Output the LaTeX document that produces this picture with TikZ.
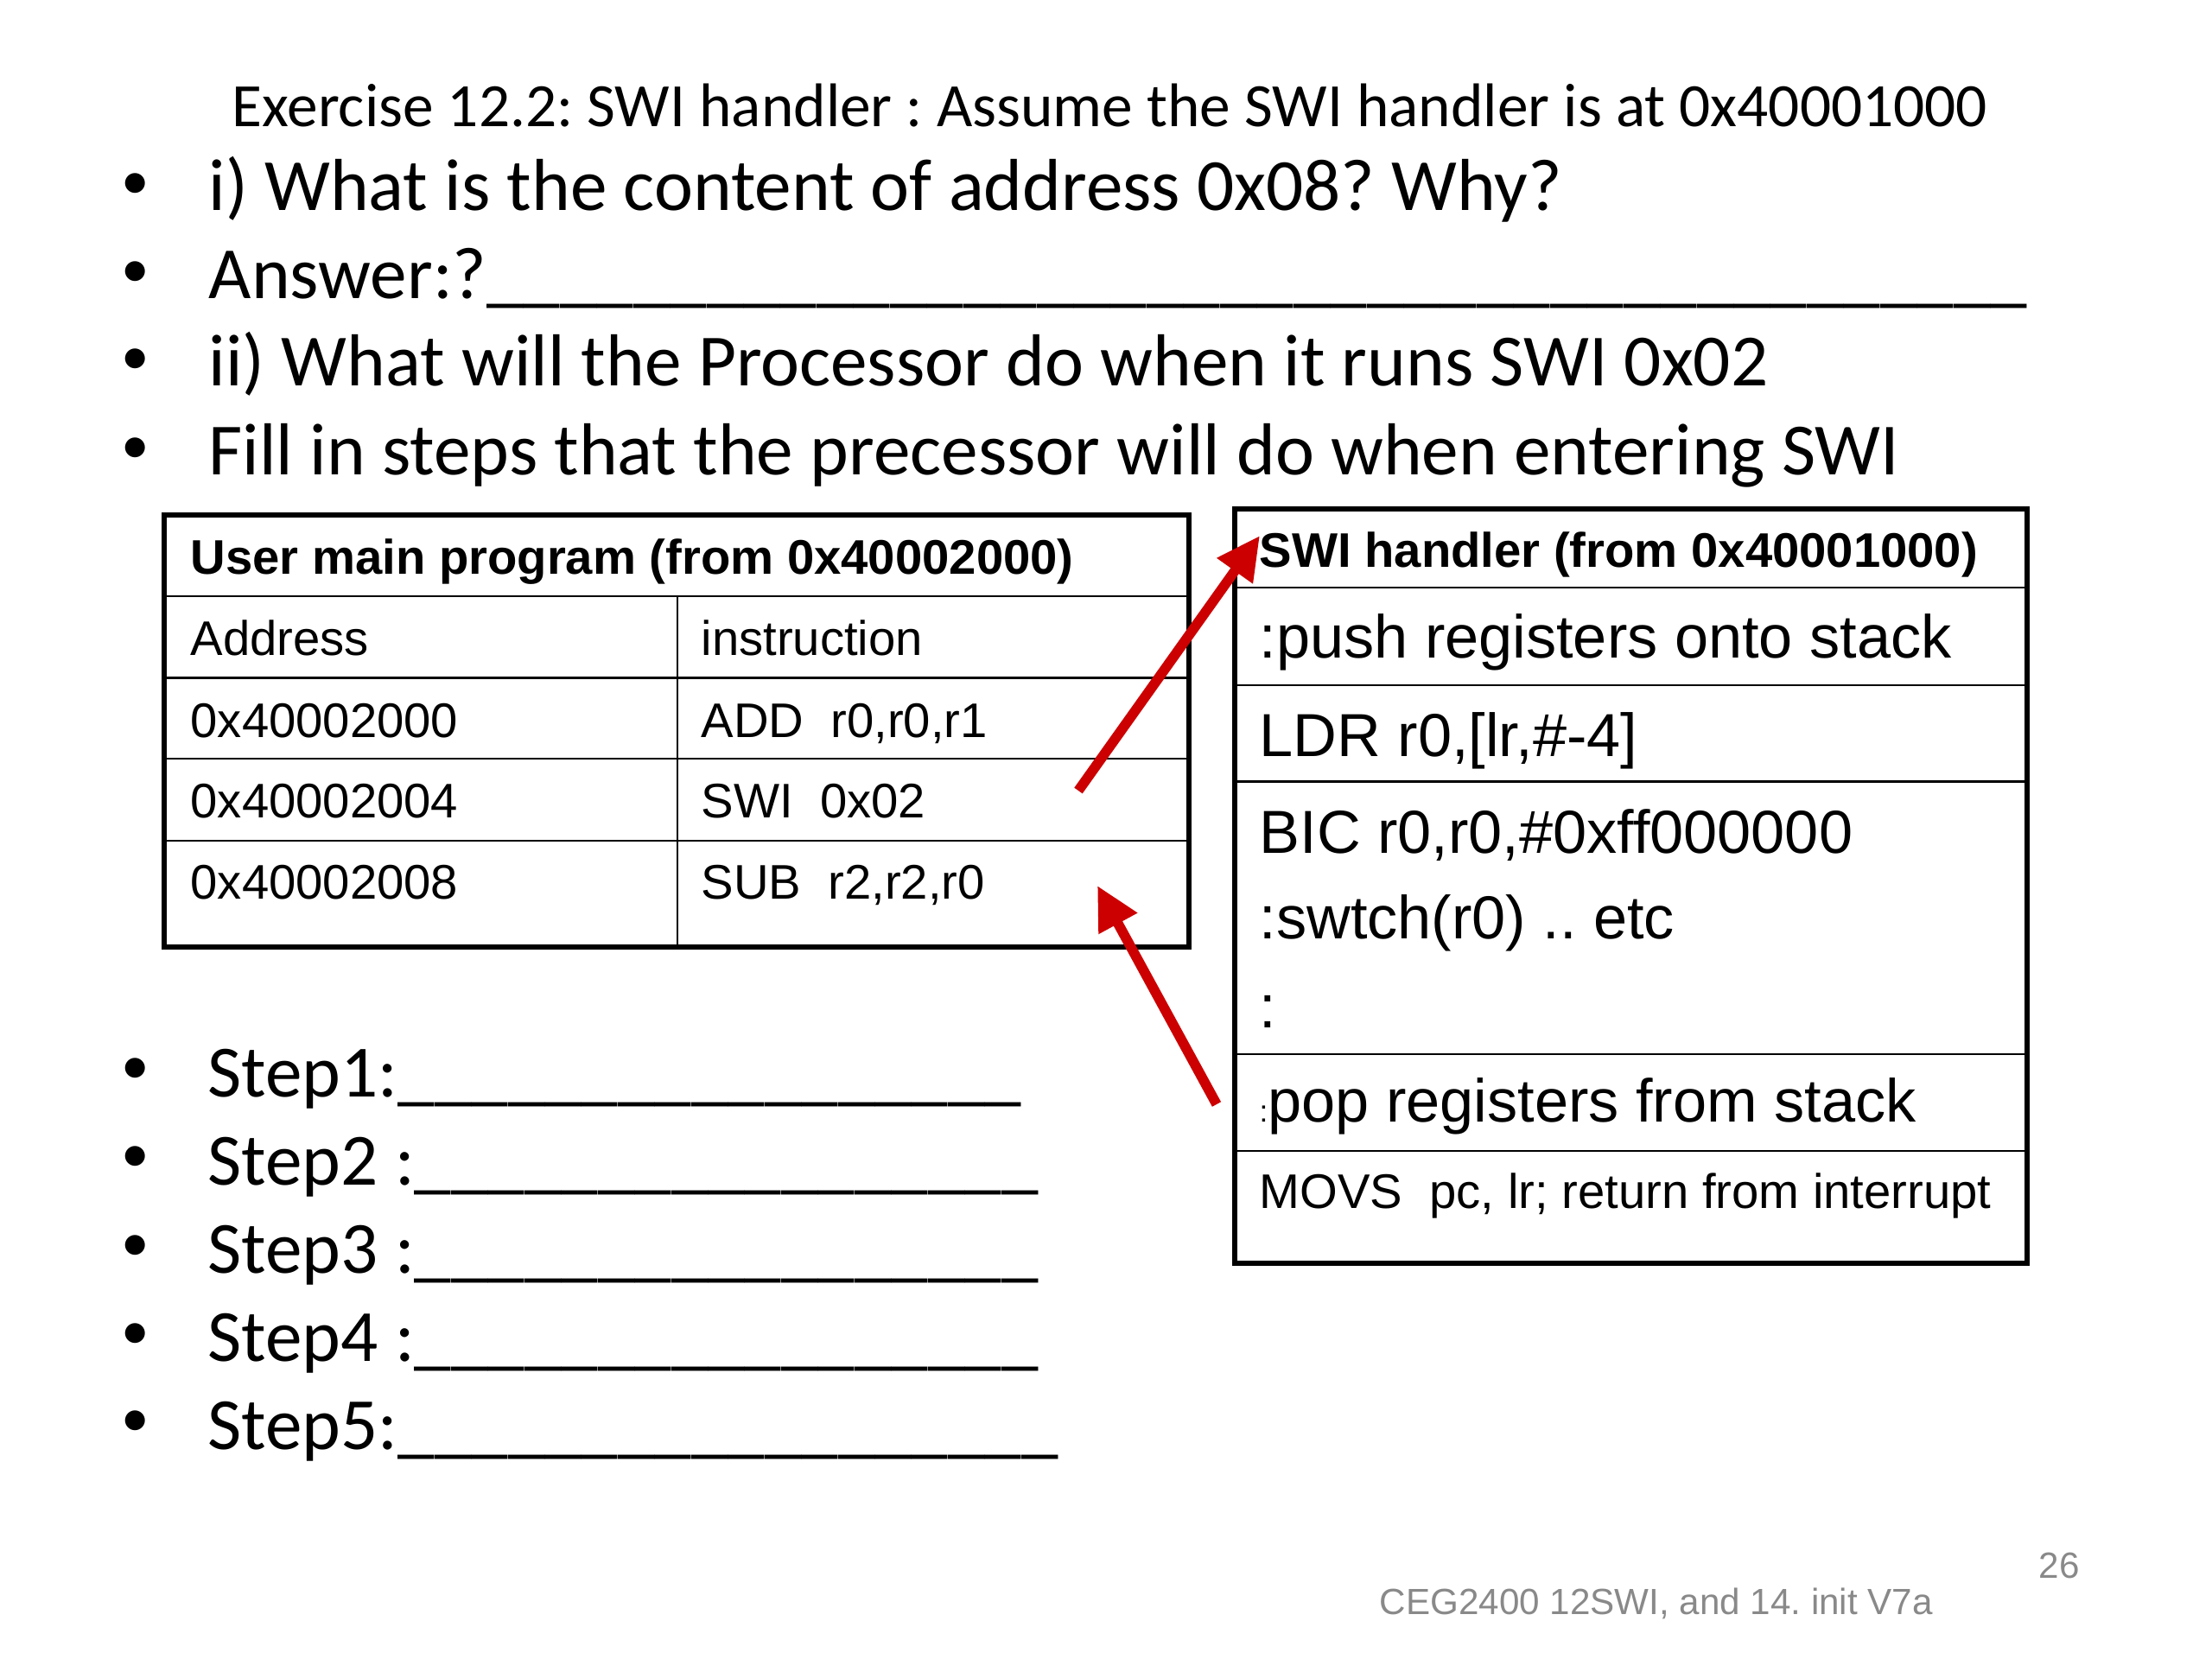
\documentclass[tikz,border=0pt]{standalone}
\usepackage{fontspec}
\setmainfont{Carlito}
\newfontfamily\arial{Liberation Sans}
\usepackage{tikz}
\usetikzlibrary{arrows.meta}
\definecolor{arrowred}{RGB}{204,0,0}
\definecolor{footgray}{RGB}{137,137,137}
\newcommand{\blankline}[1]{\foreach \k in {1,...,#1}{\_}}
\frenchspacing

\begin{document}
\begin{tikzpicture}[
    txt/.style={anchor=base west,inner sep=0pt},
    bul/.style={anchor=center,inner sep=0pt,font=\fontsize{18.5}{22}\selectfont},
    big/.style={txt,font=\fontsize{24.25}{28}\selectfont},
    cell/.style={txt,font=\arial\fontsize{16}{19}\selectfont},
    hcell/.style={txt,font=\arial\bfseries\fontsize{16}{19}\selectfont},
    code/.style={txt,font=\arial\fontsize{20}{24}\selectfont},
    jump/.style={arrowred,line width=3.3pt,-{Triangle[length=5mm,width=4.8mm]}}]
      \useasboundingbox (0,0) rectangle (25.6,-19.2);
      % heading and questions
      \node[txt,font=\fontsize{20.3}{24}\selectfont] (title) at (2.68,-1.47) {Exercise 12.2: SWI handler : Assume the SWI handler is at 0x40001000};
      \node[bul] (b1) at (1.57,-2.16) {•};
      \node[big] (q1) at (2.41,-2.44) {i) What is the content of address 0x08? Why?};
      \node[bul] (b2) at (1.57,-3.175) {•};
      \node[big] (ans) at (2.41,-3.455) {Answer:?\blankline{42}};
      \node[bul] (b3) at (1.57,-4.19) {•};
      \node[big] (q2) at (2.41,-4.47) {ii) What will the Processor do when it runs SWI 0x02};
      \node[bul] (b4) at (1.57,-5.22) {•};
      \node[big] (q3) at (2.41,-5.50) {Fill in steps that the precessor will do when entering SWI};
      % user program table
      \draw[line width=0.8pt] (1.90,-6.90) -- (13.76,-6.90);
      \draw[line width=0.8pt] (1.90,-7.846) -- (13.76,-7.846);
      \draw[line width=0.8pt] (1.90,-8.78) -- (13.76,-8.78);
      \draw[line width=0.8pt] (1.90,-9.73) -- (13.76,-9.73);
      \draw[line width=0.6pt] (7.84,-6.90) -- (7.84,-10.96);
      \draw[line width=1.9pt] (1.90,-5.96) rectangle (13.76,-10.96);
      \node[hcell] (user) at (2.20,-6.65) {User main program (from 0x40002000)};
      \node[cell] (addr) at (2.20,-7.585) {Address};
      \node[cell] (instr) at (8.11,-7.585) {instruction};
      \node[cell] (a1) at (2.20,-8.53) {0x40002000};
      \node[cell] (i1) at (8.11,-8.53) {ADD\ \ r0,r0,r1};
      \node[cell] (a2) at (2.20,-9.46) {0x40002004};
      \node[cell] (i2) at (8.11,-9.46) {SWI\ \ 0x02};
      \node[cell] (a3) at (2.20,-10.405) {0x40002008};
      \node[cell] (i3) at (8.11,-10.405) {SUB\ \ r2,r2,r0};
      % handler table
      \draw[line width=0.8pt] (14.29,-6.80) -- (23.46,-6.80);
      \draw[line width=0.8pt] (14.29,-7.93) -- (23.46,-7.93);
      \draw[line width=0.8pt] (14.29,-9.045) -- (23.46,-9.045);
      \draw[line width=0.8pt] (14.29,-12.20) -- (23.46,-12.20);
      \draw[line width=0.8pt] (14.29,-13.32) -- (23.46,-13.32);
      \draw[line width=1.9pt] (14.29,-5.89) rectangle (23.46,-14.62);
      \node[hcell] (swih) at (14.57,-6.56) {SWI handler (from 0x40001000)};
      \node[code] (push) at (14.57,-7.61) {:push registers onto stack};
      \node[code] (ldr) at (14.57,-8.75) {LDR r0,[lr,\#-4]};
      \node[code] (bic) at (14.57,-9.87) {BIC r0,r0,\#0xff000000};
      \node[code] (swtch) at (14.57,-10.866) {:swtch(r0) .. etc};
      \node[code] (dots) at (14.57,-11.89) {:};
      \node[code] (pop) at (14.57,-12.98) {{\fontsize{10}{12}\selectfont :}pop registers from stack};
      \node[cell] (movs) at (14.57,-13.98) {MOVS\ \ pc, lr; return from interrupt};
      % red arrows
      \coordinate (swiTail) at (12.48,-9.15);
      \coordinate (swiTip) at (14.58,-6.20);
      \coordinate (popTail) at (14.08,-12.78);
      \coordinate (subTip) at (12.70,-10.25);
      \draw[jump] (swiTail) -- (swiTip);
      \draw[jump] (popTail) -- (subTip);
      % steps
      \node[bul] (s1b) at (1.57,-12.40) {•};
      \node[big] (s1) at (2.40,-12.69) {Step1:\blankline{17}};
      \node[bul] (s2b) at (1.57,-13.42) {•};
      \node[big] (s2) at (2.40,-13.71) {Step2 :\blankline{17}};
      \node[bul] (s3b) at (1.57,-14.446) {•};
      \node[big] (s3) at (2.40,-14.736) {Step3 :\blankline{17}};
      \node[bul] (s4b) at (1.57,-15.466) {•};
      \node[big] (s4) at (2.40,-15.756) {Step4 :\blankline{17}};
      \node[bul] (s5b) at (1.57,-16.48) {•};
      \node[big] (s5) at (2.40,-16.77) {Step5:\blankline{18}};
      % footer
      \node[txt,font=\arial\fontsize{12}{14}\selectfont,text=footgray] (foot) at (15.96,-18.68) {CEG2400 12SWI, and 14. init V7a};
      \node[txt,font=\arial\fontsize{12}{14}\selectfont,text=footgray] (page) at (23.59,-18.26) {26};
\end{tikzpicture}
\end{document}
